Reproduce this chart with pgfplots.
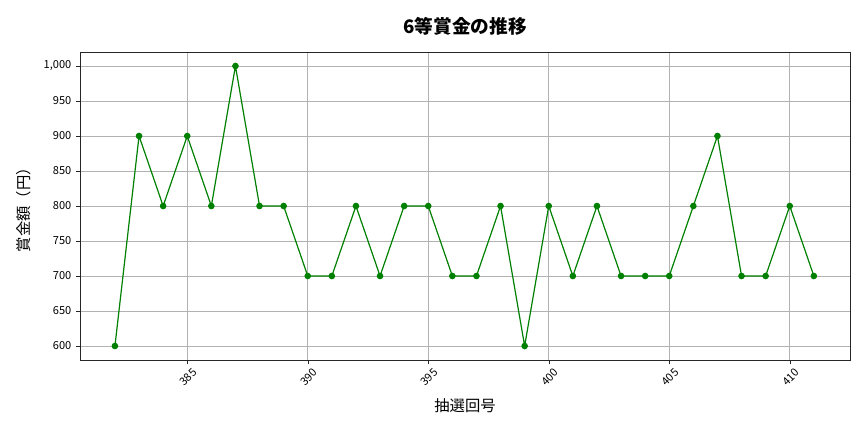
\documentclass[border=0pt]{standalone}
\usepackage{pgfplots}
\pgfplotsset{compat=1.18}
\usepackage{fontspec}
\setmainfont{Noto Sans CJK JP}
\begin{document}
\begin{tikzpicture}[x=1pt,y=1pt]
\useasboundingbox (-60,-54) rectangle (588,270);
\begin{axis}[
  at={(0,0)}, anchor=south west,
  width=577.5pt, height=231pt, scale only axis,
  xmin=380.55, xmax=412.5, ymin=580, ymax=1020,
  xtick={385,390,395,400,405,410},
  ytick={600,650,...,1000},
  xtick pos=lower, ytick pos=left,
  grid=major,
  grid style={gray!60, line width=0.5pt},
  axis line style={black!85},
  tick style={black!85},
  tick align=outside,
  major tick length=3pt,
  x tick label style={rotate=45, anchor=north east, font=\fontsize{8.3}{9}\selectfont, xshift=4pt, yshift=-1pt},
  y tick label style={font=\fontsize{8.3}{9}\selectfont},
  /pgf/number format/assume math mode=true,
  /pgf/number format/1000 sep={,},
  xticklabel={\pgfmathprintnumber[1000 sep={}]{\tick}},
  xlabel={抽選回号}, ylabel={賞金額（円）},
  xlabel style={font=\fontsize{11.5}{13}\selectfont, yshift=-1pt},
  ylabel style={font=\fontsize{11.5}{13}\selectfont, yshift=3pt},
  title={\bfseries 6等賞金の推移},
  title style={font=\fontsize{14}{16}\selectfont, yshift=3pt},
]
\addplot[color={rgb,255:red,0;green,128;blue,0}, line width=0.9pt, mark=*, mark size=2pt] coordinates {
(382,600)(383,900)(384,800)(385,900)(386,800)(387,1000)(388,800)(389,800)
(390,700)(391,700)(392,800)(393,700)(394,800)(395,800)(396,700)(397,700)
(398,800)(399,600)(400,800)(401,700)(402,800)(403,700)(404,700)(405,700)
(406,800)(407,900)(408,700)(409,700)(410,800)(411,700)
};
\end{axis}
\end{tikzpicture}
\end{document}
